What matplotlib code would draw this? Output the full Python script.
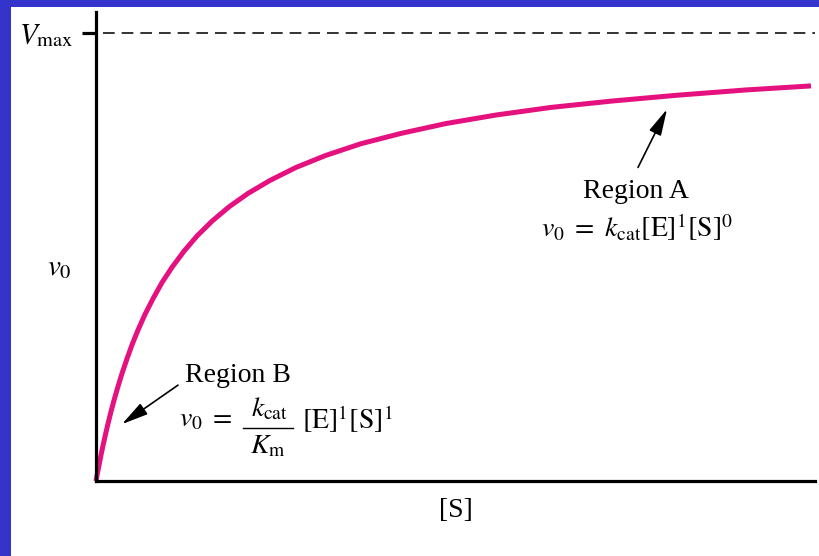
import numpy as np
import matplotlib
matplotlib.use("Agg")
import matplotlib.pyplot as plt
from matplotlib.patches import Rectangle
from matplotlib.lines import Line2D

plt.rcParams['font.family'] = ['Liberation Serif', 'DejaVu Serif']
plt.rcParams['mathtext.fontset'] = 'stix'

# substrate concentration (arbitrary units) and initial velocity (fraction of Vmax)
substrate = [0.0, 0.015, 0.03, 0.05, 0.07, 0.095, 0.12, 0.15, 0.18, 0.22, 0.26, 0.31,
             0.36, 0.42, 0.49, 0.57, 0.66, 0.76, 0.88, 1.01, 1.16, 1.33, 1.52, 1.74,
             2.00, 2.30, 2.65, 3.05, 3.50, 4.00, 4.55, 5.15, 5.80, 6.50, 7.15]
velocity = [0.0, 0.018, 0.035, 0.058, 0.079, 0.104, 0.128, 0.155, 0.180, 0.211, 0.240, 0.273,
            0.304, 0.337, 0.372, 0.407, 0.443, 0.477, 0.513, 0.547, 0.580, 0.612, 0.642, 0.671,
            0.700, 0.727, 0.753, 0.776, 0.798, 0.817, 0.834, 0.848, 0.861, 0.873, 0.882]
v_max = 1.0
s_max = 7.19

curve_color = '#E4117F'
frame_blue = '#3434CC'

W, H = 820, 556
fig = plt.figure(figsize=(W / 100, H / 100), dpi=100)
fig.patch.set_facecolor(frame_blue)
fig.patches.append(Rectangle((11 / W, 0), 1, 549 / H, transform=fig.transFigure,
                             facecolor='white', edgecolor='none', zorder=-10))


def px(x, y):
    # pixel position (from top-left) -> figure fraction
    return x / W, 1 - y / H


ax = fig.add_axes([96 / W, 75 / H, 719 / W, 469 / H])
ax.patch.set_alpha(0)

ax.plot(substrate, velocity, color=curve_color, lw=3.6, solid_capstyle='butt',
        solid_joinstyle='round', clip_on=False)

dash = ax.plot([0.07, s_max], [v_max, v_max], color='#333333', lw=1.4)[0]
dash.set_dashes((6.0, 3.6))

ax.set_xlim(0, s_max)
ax.set_ylim(0, 1.047)

for side in ['top', 'right']:
    ax.spines[side].set_visible(False)
for side in ['left', 'bottom']:
    ax.spines[side].set_linewidth(2.3)
    ax.spines[side].set_color('black')

ax.set_xticks([])
ax.set_yticks([v_max])
ax.set_yticklabels([r'$V_{\mathrm{max}}$'], fontsize=21)
ax.tick_params(axis='y', direction='out', length=10, width=2.3, pad=6)

ax.set_xlabel('[S]', fontsize=20, labelpad=12)
fig.text(*px(59, 268), r'$v_0$', fontsize=21, ha='center', va='center')

arrow = dict(arrowstyle='-|>,head_length=0.9,head_width=0.22', color='black',
             lw=1.2, mutation_scale=18, shrinkA=0, shrinkB=0)

# Region A (saturating substrate)
ax.annotate('', xy=(5.71, 0.83), xytext=(5.42, 0.70), arrowprops=arrow)
ax.text(5.40, 0.647, 'Region A', fontsize=20, ha='center', va='center')
ax.text(5.41, 0.566, r'$v_0\ =\ k_{\mathrm{cat}}[\mathrm{E}]^1[\mathrm{S}]^0$',
        fontsize=20, ha='center', va='center')

# Region B (low substrate)
ax.annotate('', xy=(0.26, 0.127), xytext=(0.82, 0.214), arrowprops=arrow)
ax.text(1.42, 0.235, 'Region B', fontsize=20, ha='center', va='center')

# v0 = kcat/Km [E]^1[S]^1 laid out as a stacked fraction
fig.text(*px(179, 426), r'$v_0\ =$', fontsize=20, ha='left', va='baseline')
fig.text(*px(270, 416), r'$k_{\mathrm{cat}}$', fontsize=20, ha='center', va='baseline')
fig.text(*px(268, 453), r'$K_{\mathrm{m}}$', fontsize=20, ha='center', va='baseline')
bar_l, bar_y = px(243, 428)
bar_r, _ = px(293, 428)
fig.add_artist(Line2D([bar_l, bar_r], [bar_y, bar_y], transform=fig.transFigure,
                      color='black', lw=1.0))
fig.text(*px(302, 429), r'$[\mathrm{E}]^1[\mathrm{S}]^1$', fontsize=20, ha='left', va='baseline')

fig.savefig('out.png', dpi=100, facecolor=fig.get_facecolor())
